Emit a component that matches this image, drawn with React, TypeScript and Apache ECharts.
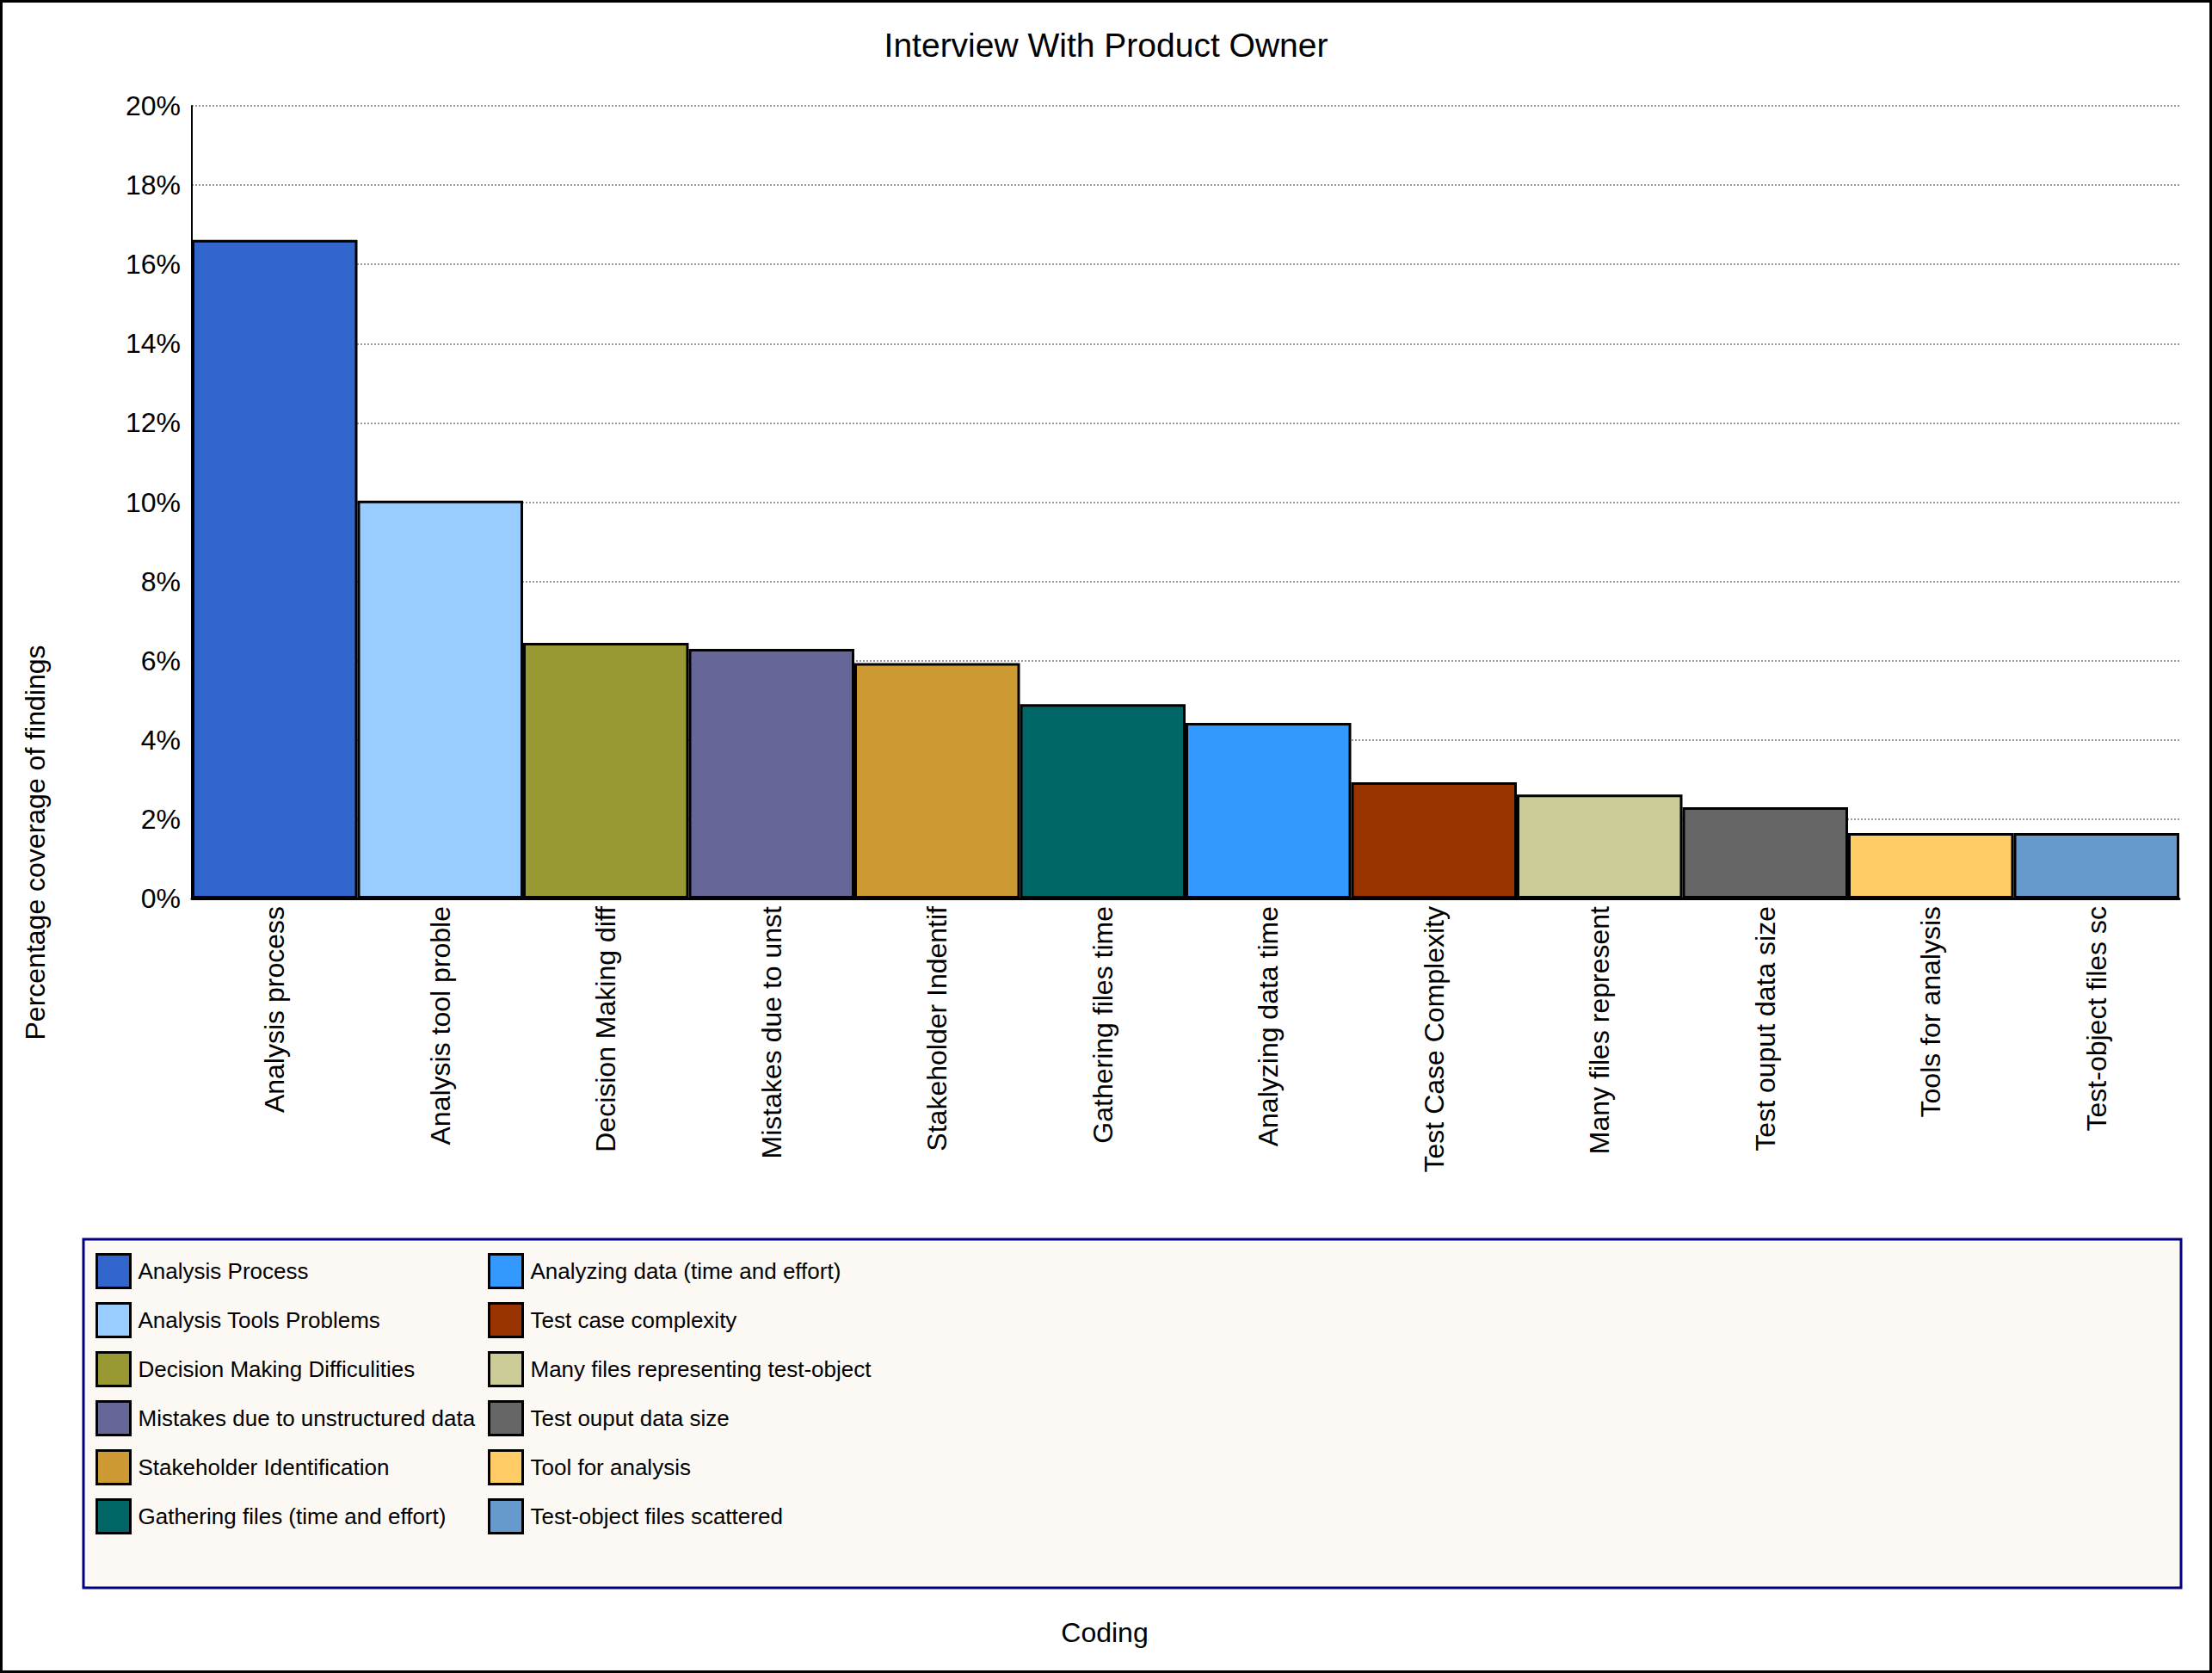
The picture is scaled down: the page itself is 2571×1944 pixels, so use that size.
import React, { useEffect, useRef } from "react";
import * as echarts from "echarts";

const categories = [
  "Analysis process",
  "Analysis tool proble",
  "Decision Making diff",
  "Mistakes due to unst",
  "Stakeholder Indentif",
  "Gathering files time",
  "Analyzing data time",
  "Test Case Complexity",
  "Many files represent",
  "Test ouput data size",
  "Tools for analysis",
  "Test-object files sc",
];

const seriesNames = [
  "Analysis Process",
  "Analysis Tools Problems",
  "Decision Making Difficulities",
  "Mistakes due to unstructured data",
  "Stakeholder Identification",
  "Gathering files (time and effort)",
  "Analyzing data (time and effort)",
  "Test case complexity",
  "Many files representing test-object",
  "Test ouput data size",
  "Tool for analysis",
  "Test-object files scattered",
];

const values = [16.62, 10.04, 6.45, 6.3, 5.94, 4.9, 4.43, 2.93, 2.62, 2.3, 1.65, 1.65];

const colors = [
  "#3366CC",
  "#99CCFF",
  "#999933",
  "#666699",
  "#CC9933",
  "#006666",
  "#3399FF",
  "#993300",
  "#CCCC99",
  "#666666",
  "#FFCC66",
  "#6699CC",
];

const yMin = 0;
const yMax = 20;
const yInterval = 2;

const W = 2571;
const H = 1944;
const FONT = "'Liberation Sans', Arial, sans-serif";

export default function App() {
  const ref = useRef<HTMLDivElement>(null);

  useEffect(() => {
    document.body.style.margin = "0";
    if (!ref.current) return;
    const chart = echarts.init(ref.current, undefined, { renderer: "svg" });

    const series = seriesNames.map((name, i) => ({
      type: "bar",
      name,
      stack: "all",
      barCategoryGap: "0%",
      data: values.map((v, j) => (j === i ? v : "-")),
      itemStyle: { color: colors[i], borderColor: "#000", borderWidth: 3 },
    }));

    const legendCommon = {
      orient: "vertical",
      top: 1456,
      padding: 0,
      itemWidth: 39,
      itemHeight: 39,
      itemGap: 15,
      icon: "rect",
      selectedMode: false,
      itemStyle: { borderColor: "#000", borderWidth: 3 },
      textStyle: { fontSize: 26, fontFamily: FONT, color: "#000", padding: [9, 0, 0, 4] },
    };

    chart.setOption({
      animation: false,
      backgroundColor: "#fff",
      title: {
        text: "Interview With Product Owner",
        left: "center",
        top: 28,
        textStyle: { fontSize: 39, fontWeight: "normal", color: "#000", fontFamily: FONT },
      },
      legend: [
        { ...legendCommon, left: 111, data: seriesNames.slice(0, 6) },
        { ...legendCommon, left: 567, data: seriesNames.slice(6) },
      ],
      grid: { left: 223, right: W - 2533, top: 123, bottom: H - 1044, containLabel: false },
      xAxis: {
        type: "category",
        data: categories,
        axisLine: { show: true, lineStyle: { color: "#000", width: 3 } },
        axisTick: { show: false },
        axisLabel: {
          rotate: 90,
          interval: 0,
          margin: 9,
          fontSize: 32,
          color: "#000",
          fontFamily: FONT,
        },
        splitLine: { show: false },
      },
      yAxis: {
        type: "value",
        min: yMin,
        max: yMax,
        interval: yInterval,
        axisLine: { show: true, lineStyle: { color: "#000", width: 2 } },
        axisTick: { show: false },
        axisLabel: {
          formatter: "{value}%",
          fontSize: 32,
          margin: 13,
          color: "#000",
          fontFamily: FONT,
        },
        splitLine: { show: true, lineStyle: { color: "#999", type: "dotted", width: 2 } },
      },
      graphic: [
        {
          type: "rect",
          z: -10,
          shape: { x: 1.5, y: 1.5, width: W - 3, height: H - 3 },
          style: { fill: "none", stroke: "#000", lineWidth: 3 },
        },
        {
          type: "rect",
          z: -5,
          shape: { x: 97, y: 1440, width: 2438, height: 405 },
          style: { fill: "#FCF9F4", stroke: "#000080", lineWidth: 3 },
        },
        {
          type: "text",
          x: 41,
          y: 979,
          rotation: Math.PI / 2,
          style: {
            text: "Percentage coverage of findings",
            fontSize: 32,
            fontFamily: FONT,
            fill: "#000",
            textAlign: "center",
            textVerticalAlign: "middle",
          },
        },
        {
          type: "text",
          x: 1284,
          y: 1897,
          style: {
            text: "Coding",
            fontSize: 32,
            fontFamily: FONT,
            fill: "#000",
            textAlign: "center",
            textVerticalAlign: "middle",
          },
        },
      ],
      series,
    });

    return () => chart.dispose();
  }, []);

  return <div ref={ref} style={{ width: W, height: H }} />;
}
